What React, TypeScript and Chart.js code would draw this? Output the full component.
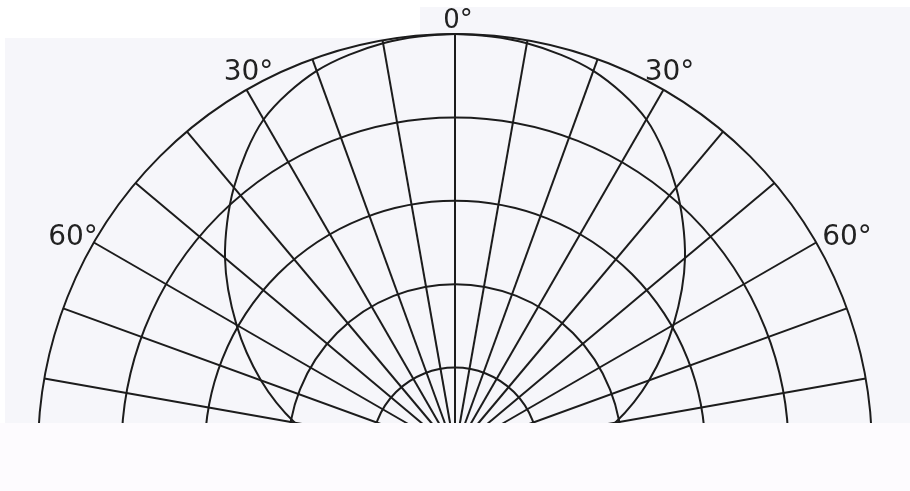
import React, { useEffect, useRef } from 'react';
import { Chart, registerables } from 'chart.js';

Chart.register(...registerables);

// Directions of the polar grid (one spoke every 10°, clockwise from the top)
const directionLabels = [
  '0°', '10°', '20°', '30°', '40°', '50°', '60°', '70°', '80°', '90°',
  '100°', '110°', '120°', '130°', '140°', '150°', '160°', '170°', '180°',
  '190°', '200°', '210°', '220°', '230°', '240°', '250°', '260°', '270°',
  '280°', '290°', '300°', '310°', '320°', '330°', '340°', '350°',
];

// Off-axis angle (deg) and relative intensity (same on both sides)
const offAxisAngles = [0, 10, 20, 30, 40, 50, 60, 70, 80, 90];
const relativeIntensity = [1.0, 0.993, 0.97, 0.918, 0.825, 0.72, 0.605, 0.495, 0.39, 0.29];

// Ring scale
const ringMin = 0;
const ringMax = 1;
const ringStep = 0.2;

// Angle labels shown on the chart: [direction on grid, text]
const markedDirections = ['0°', '30°', '60°', '330°', '300°'];
const markedTexts = ['0°', '30°', '60°', '30°', '60°'];

const LINE = '#1c1c1c';

export default function App() {
  const canvasRef = useRef<HTMLCanvasElement | null>(null);

  useEffect(() => {
    const canvas = canvasRef.current;
    if (!canvas) return;

    const curveData = directionLabels.map((lab) => {
      const deg = parseInt(lab, 10);
      const off = deg <= 180 ? deg : 360 - deg;
      const idx = offAxisAngles.indexOf(off);
      return idx >= 0 ? relativeIntensity[idx] : null;
    });

    // label placement styles: dx, dy relative to the outer grid point, alignment, font size
    const labelStyle: Record<string, { dx: number; dy: number; align: CanvasTextAlign; size: number }> = {
      '0°': { dx: 3, dy: -6, align: 'center', size: 26 },
      '30°': { dx: 6, dy: -10, align: 'center', size: 28 },
      '330°': { dx: 2, dy: -10, align: 'center', size: 28 },
      '60°': { dx: 6, dy: 2, align: 'left', size: 28 },
      '300°': { dx: 4, dy: 2, align: 'right', size: 28 },
    };

    const backgroundPlugin = {
      id: 'bg',
      beforeDraw(chart: any) {
        const { ctx, width, height } = chart;
        ctx.save();
        ctx.fillStyle = '#ffffff';
        ctx.fillRect(0, 0, width, height);
        ctx.fillStyle = '#f6f6fa';
        ctx.fillRect(5, 7, width - 5, 423 - 7);
        ctx.fillStyle = '#ffffff';
        ctx.fillRect(0, 0, 420, 38);
        ctx.restore();
      },
    };

    const overlayPlugin = {
      id: 'overlay',
      afterDraw(chart: any) {
        const { ctx, width, height } = chart;
        const scale = chart.scales.r;
        ctx.save();
        // cropped lower band
        ctx.fillStyle = '#fdfbfe';
        ctx.fillRect(0, 423, width, height - 423);
        // angle labels
        ctx.fillStyle = '#222222';
        markedDirections.forEach((dir, i) => {
          const index = directionLabels.indexOf(dir);
          const st = labelStyle[dir];
          const p = scale.getPointPosition(index, scale.drawingArea);
          ctx.font = `${st.size}px "DejaVu Sans", sans-serif`;
          ctx.textAlign = st.align;
          ctx.textBaseline = 'alphabetic';
          ctx.fillText(markedTexts[i], p.x + st.dx, p.y + st.dy);
        });
        ctx.restore();
      },
    };

    const chart = new Chart(canvas, {
      type: 'radar',
      data: {
        labels: directionLabels,
        datasets: [
          {
            data: curveData as any,
            borderColor: LINE,
            borderWidth: 2,
            backgroundColor: 'rgba(0,0,0,0)',
            fill: false,
            pointRadius: 0,
            tension: 0.3,
            spanGaps: false,
          },
        ],
      },
      options: {
        animation: false,
        responsive: false,
        devicePixelRatio: 1,
        layout: { padding: { top: 34, left: 0, right: 0, bottom: 0 } },
        plugins: { legend: { display: false }, tooltip: { enabled: false } },
        scales: {
          r: {
            min: ringMin,
            max: ringMax,
            ticks: { display: false, stepSize: ringStep },
            grid: { circular: true, color: LINE, lineWidth: 2 },
            angleLines: { display: true, color: LINE, lineWidth: 2 },
            pointLabels: { display: false },
          },
        },
      },
      plugins: [backgroundPlugin, overlayPlugin],
    });

    return () => chart.destroy();
  }, []);

  return (
    <div
      style={{
        position: 'fixed',
        left: 0,
        top: 0,
        width: 910,
        height: 491,
        overflow: 'hidden',
        background: '#ffffff',
      }}
    >
      <canvas ref={canvasRef} width={910} height={868} style={{ display: 'block' }} />
    </div>
  );
}
